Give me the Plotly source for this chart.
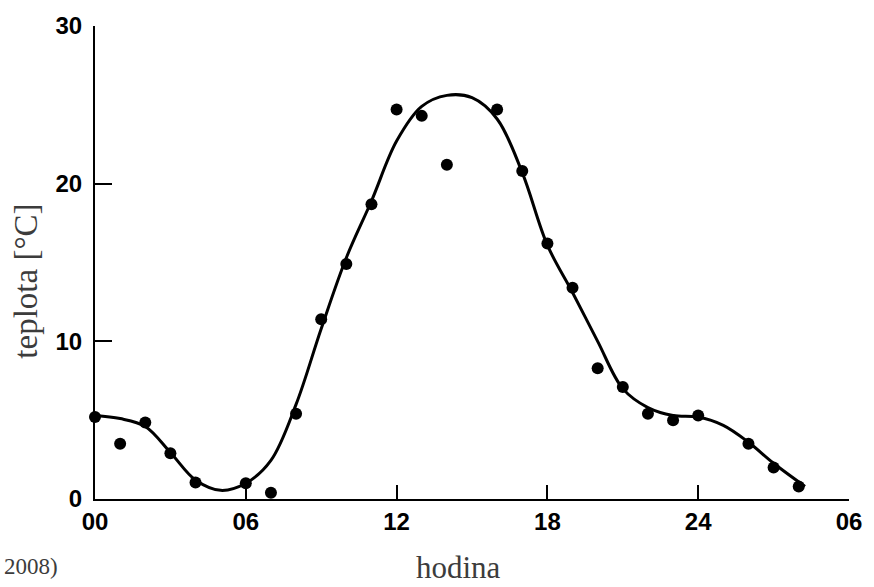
import plotly.graph_objects as go

# measured hourly temperatures (points)
obs_hour = [0, 1, 2, 3, 4, 6, 7, 8, 9, 10, 11, 12, 13, 14, 16, 17, 18, 19, 20, 21, 22, 23, 24, 26, 27, 28]
obs_temp = [5.2, 3.5, 4.85, 2.9, 1.05, 1.0, 0.4, 5.4, 11.4, 14.9, 18.7, 24.7, 24.3, 21.2, 24.7, 20.8, 16.2, 13.4, 8.3, 7.1, 5.4, 5.0, 5.3, 3.5, 2.0, 0.8]

# smooth fitted curve
fit_hour = [0, 1, 2, 3, 4, 5, 6, 7, 8, 9, 10, 11, 12, 13, 14, 15, 16, 17, 18, 19, 20, 21, 22, 23, 24, 25, 26, 27, 28.25]
fit_temp = [5.3, 5.1, 4.6, 2.95, 1.2, 0.55, 1.0, 2.45, 6.0, 10.8, 15.3, 18.9, 22.7, 24.9, 25.6, 25.45, 24.1, 20.7, 16.1, 13.1, 10.0, 7.0, 5.8, 5.3, 5.2, 4.67, 3.6, 2.27, 0.8]

x_tickvals = [0, 6, 12, 18, 24, 30]
x_ticktext = ["00", "06", "12", "18", "24", "06"]
y_tickvals = [0, 10, 20, 30]
y_ticktext = ["0", "10", "20", "30"]

fig = go.Figure()
fig.add_trace(go.Scatter(
    x=fit_hour, y=fit_temp, mode="lines",
    line=dict(color="black", width=3, shape="spline", smoothing=1.0),
    showlegend=False, hoverinfo="skip", cliponaxis=False))
fig.add_trace(go.Scatter(
    x=obs_hour, y=obs_temp, mode="markers",
    marker=dict(color="black", size=12),
    showlegend=False, cliponaxis=False))

tick_font = dict(family="Liberation Sans, Arial, sans-serif", size=24, color="black", weight="bold")
fig.update_xaxes(
    range=[0, 30], showgrid=False, zeroline=False,
    showline=True, linecolor="black", linewidth=2,
    ticks="inside", ticklen=14, tickwidth=2, tickcolor="black",
    tickvals=x_tickvals, ticktext=x_ticktext, tickfont=tick_font,
    ticklabelstandoff=0)
fig.update_yaxes(
    range=[0, 30], showgrid=False, zeroline=False,
    showline=True, linecolor="black", linewidth=2,
    ticks="inside", ticklen=17, tickwidth=2, tickcolor="black",
    tickvals=y_tickvals, ticktext=y_ticktext, tickfont=tick_font,
    ticklabelstandoff=6)

serif = "Liberation Serif, Times New Roman, serif"
fig.add_annotation(text="teplota [°C]", textangle=-90, xref="paper", yref="paper",
                   x=(25 - 95) / 762, y=(499 - 280) / 475, xanchor="center", yanchor="middle",
                   showarrow=False, font=dict(family=serif, size=33, color="#3c3c3c"))
fig.add_annotation(text="hodina", xref="paper", yref="paper",
                   x=(462 - 95) / 762, y=(499 - 587) / 475, xanchor="center", yanchor="bottom",
                   showarrow=False, font=dict(family=serif, size=31, color="#3c3c3c"))
fig.add_annotation(text="2008)", xref="paper", yref="paper",
                   x=(1 - 95) / 762, y=(499 - 567) / 475, xanchor="left", yanchor="middle",
                   showarrow=False, font=dict(family=serif, size=23, color="#3c3c3c"))

fig.update_layout(
    width=874, height=587,
    margin=dict(l=95, r=17, t=24, b=88),
    paper_bgcolor="white", plot_bgcolor="white")

fig.write_html("out.html")
